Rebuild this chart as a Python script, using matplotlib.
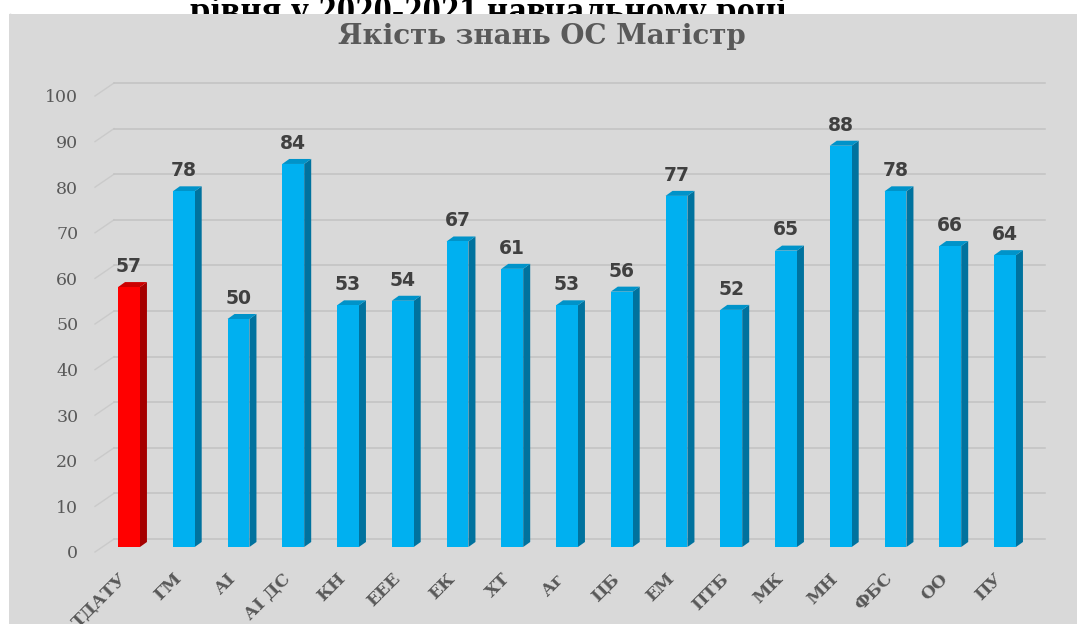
import matplotlib.pyplot as plt
from matplotlib.patches import Rectangle, Polygon
from matplotlib.transforms import ScaledTranslation

# Dados do grafico
categorias = ['ТДАТУ', 'ГМ', 'АІ', 'АІ ДС', 'КН', 'ЕЕЕ', 'ЕК', 'ХТ', 'Аг', 'ЦБ',
              'ЕМ', 'ПТБ', 'МК', 'МН', 'ФБС', 'ОО', 'ПУ']
valores = [57, 78, 50, 84, 53, 54, 67, 61, 53, 56, 77, 52, 65, 88, 78, 66, 64]
yticks = [0, 10, 20, 30, 40, 50, 60, 70, 80, 90, 100]

titulo_topo = 'рівня у 2020-2021 навчальному році'
titulo = 'Якість знань ОС Магістр'

# Cores
azul, azul_lado, azul_topo = '#00B0F0', '#00729E', '#0093C9'
verm, verm_lado, verm_topo = '#FF0000', '#A50000', '#CC0000'
cinza_fundo = '#D9D9D9'
cinza_grade = '#C2C2C2'
cinza_texto = '#595959'

W, H = 1077, 624
fig = plt.figure(figsize=(W / 100, H / 100), dpi=100)
fig.patch.set_facecolor('white')

# Titulo de cima (cortado pelo fundo cinza)
fig.text(488 / W, 1 - 22 / H, titulo_topo, ha='center', va='baseline',
         fontsize=26.5, fontweight='bold', family='Liberation Serif',
         color='black', zorder=-2)

# Fundo cinza do grafico
fig.patches.append(Rectangle((9 / W, 0), 1 - 9 / W, 1 - 14 / H,
                             transform=fig.transFigure, facecolor=cinza_fundo,
                             edgecolor='none', zorder=-1))
fig.lines.append(plt.Line2D([9.5 / W, 9.5 / W], [0, 1 - 14 / H],
                            transform=fig.transFigure, color='#B0B0B0', lw=1.0,
                            zorder=-1))

fig.text(542 / W, 1 - 36 / H, titulo, ha='center', va='center',
         fontsize=20, fontweight='bold', family='DejaVu Serif',
         color=cinza_texto, zorder=1)

# Eixos: frente da barra em y=0 -> px 547, y=100 -> px 91
ax = fig.add_axes([95 / W, 1 - 547 / H, 950 / W, 456 / H])
ax.patch.set_alpha(0)
x0 = -(129 - 95) / 54.75
x1 = (1045 - 129) / 54.75
ax.set_xlim(x0, x1)
ax.set_ylim(0, 100)
for sp in ax.spines.values():
    sp.set_visible(False)

# unidades por pixel
ux = 1 / 54.75
uy = 100 / 456

# Linhas de grade (parede de fundo em 3D)
for t in yticks:
    ax.plot([x0, x0 + 19 * ux], [t - 5 * uy, t + 8 * uy], color='#CACACA',
            lw=1.0, clip_on=False, zorder=1)
    ax.plot([x0 + 19 * ux, x1], [t + 8 * uy, t + 8 * uy], color=cinza_grade,
            lw=1.1, clip_on=False, zorder=1)

# Barras com efeito 3D
w = 0.2
dx, dy = 7 * ux, 5 * uy
for i, v in enumerate(valores):
    if i == 0:
        cf, cl, ct = verm, verm_lado, verm_topo
    else:
        cf, cl, ct = azul, azul_lado, azul_topo
    ax.add_patch(Polygon([(i + w, 0), (i + w + dx, dy), (i + w + dx, v + dy), (i + w, v)],
                         closed=True, facecolor=cl, edgecolor='none', zorder=3))
    ax.add_patch(Polygon([(i - w, v), (i - w + dx, v + dy), (i + w + dx, v + dy), (i + w, v)],
                         closed=True, facecolor=ct, edgecolor='none', zorder=3))
    ax.add_patch(Rectangle((i - w, 0), 2 * w, v, facecolor=cf, edgecolor='none', zorder=4))
    ax.annotate(str(v), (i, v), xytext=(0, 8), textcoords='offset points',
                ha='center', va='bottom', fontsize=13.5, fontweight='bold',
                color='#404040', zorder=5)

# Eixo y
ax.set_yticks(yticks)
ax.set_yticklabels([str(t) for t in yticks], family='DejaVu Serif',
                   fontsize=12.5, color=cinza_texto)
ax.tick_params(axis='y', length=0, pad=12)
for lab in ax.get_yticklabels():
    lab.set_transform(lab.get_transform() + ScaledTranslation(0, -5 / 100, fig.dpi_scale_trans))

# Eixo x
ax.set_xticks(range(len(categorias)))
ax.set_xticklabels(categorias, rotation=45, ha='right', va='center',
                   rotation_mode='anchor', family='DejaVu Serif',
                   fontweight='bold', fontsize=12.5, color=cinza_texto)
ax.tick_params(axis='x', length=0, pad=21)
for lab in ax.get_xticklabels():
    lab.set_transform(lab.get_transform() + ScaledTranslation(-5 / 100, 0, fig.dpi_scale_trans))

plt.savefig('out.png', dpi=100)
